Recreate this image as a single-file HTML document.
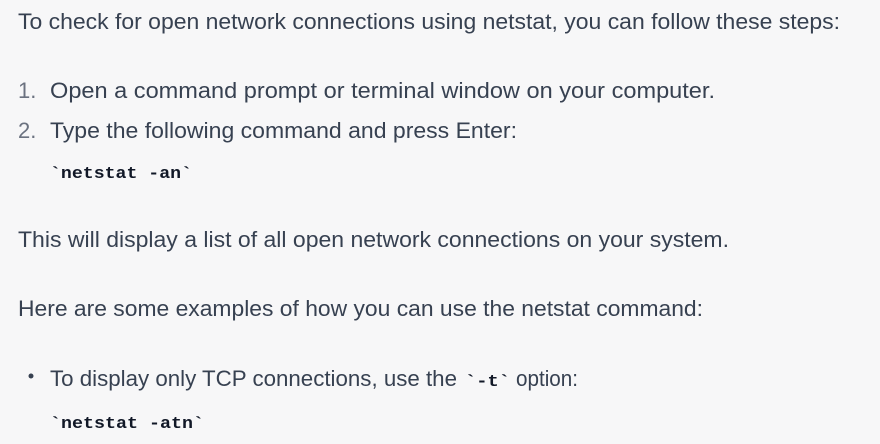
<!DOCTYPE html>
<html><head><meta charset="utf-8"><style>
html,body{margin:0;padding:0;background:#f7f7f8;}
svg{display:block}
.t{font-family:"Liberation Sans",sans-serif;font-size:22px;fill:#374151}
.n{font-family:"Liberation Sans",sans-serif;font-size:22px;fill:#6b7280}
.c{font-family:"Liberation Mono",monospace;font-size:17px;font-weight:bold;fill:#111827}
</style></head><body>
<svg width="880" height="444" viewBox="0 0 880 444">
<rect width="880" height="444" fill="#f7f7f8"/>
<text class="t" x="18" y="29" textLength="822" lengthAdjust="spacingAndGlyphs">To check for open network connections using netstat, you can follow these steps:</text>
<text class="n" x="18" y="98">1.</text>
<text class="t" x="50" y="98" textLength="665" lengthAdjust="spacingAndGlyphs">Open a command prompt or terminal window on your computer.</text>
<text class="n" x="18" y="138">2.</text>
<text class="t" x="50" y="138" textLength="467" lengthAdjust="spacingAndGlyphs">Type the following command and press Enter:</text>
<text class="c" x="50" y="178" textLength="142" lengthAdjust="spacingAndGlyphs">`netstat -an`</text>
<text class="t" x="18" y="247" textLength="711" lengthAdjust="spacingAndGlyphs">This will display a list of all open network connections on your system.</text>
<text class="t" x="18" y="316" textLength="685" lengthAdjust="spacingAndGlyphs">Here are some examples of how you can use the netstat command:</text>
<circle cx="31" cy="376" r="2.5" fill="#374151"/>
<text class="t" x="50" y="386" textLength="407" lengthAdjust="spacingAndGlyphs">To display only TCP connections, use the</text>
<text class="c" x="465" y="386" textLength="45" lengthAdjust="spacingAndGlyphs">`-t`</text>
<text class="t" x="516" y="386" textLength="62" lengthAdjust="spacingAndGlyphs">option:</text>
<text class="c" x="50" y="428" textLength="154" lengthAdjust="spacingAndGlyphs">`netstat -atn`</text>
</svg>
</body></html>
